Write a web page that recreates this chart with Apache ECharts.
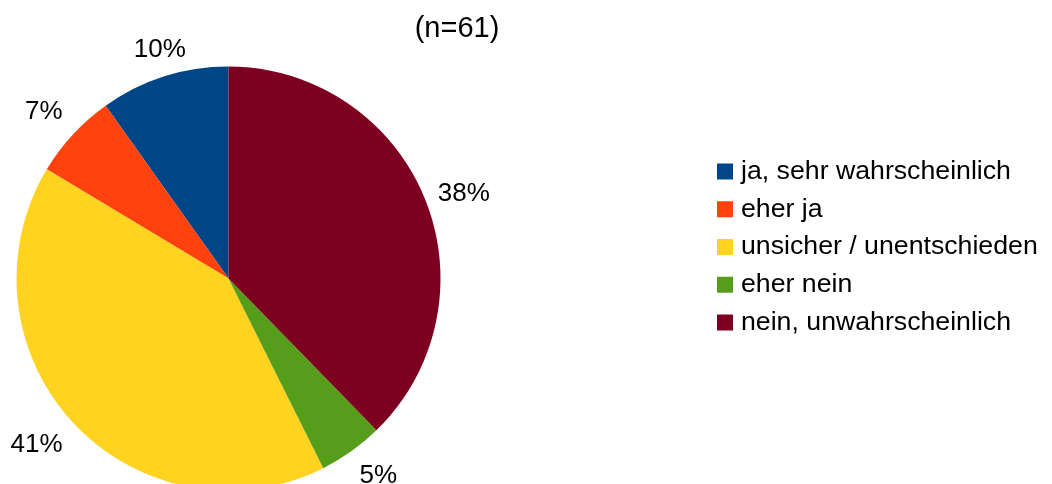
<!DOCTYPE html>
<html>
<head>
<meta charset="utf-8">
<script src="https://cdn.jsdelivr.net/npm/echarts@6/dist/echarts.min.js"></script>
<style>
  html, body { margin: 0; padding: 0; background: #fff; }
  #chart { width: 1052px; height: 484px; }
</style>
</head>
<body>
<div id="chart"></div>
<script>
// Antworten (Anzahl Befragte, n = 61)
const categories = [
  'ja, sehr wahrscheinlich',
  'eher ja',
  'unsicher / unentschieden',
  'eher nein',
  'nein, unwahrscheinlich'
];
const counts = [6, 4, 25, 3, 23];
const colors = ['#004586', '#ff420e', '#ffd320', '#579d1c', '#7e0021'];
const subtitle = '(n=61)';

const font = '"Liberation Sans", Arial, sans-serif';
const labelSize = 26;
const total = counts.reduce((a, b) => a + b, 0);
const pctText = v => Math.round(v / total * 100) + '%';

// measure label text so each label can be anchored by its nearest corner/edge
const ctx = document.createElement('canvas').getContext('2d');
ctx.font = labelSize + 'px ' + font;

// slices run counter-clockwise from 12 o'clock; anchor side follows the mid angle
let before = 0;
const labelData = categories.map((name, i) => {
  const mid = (90 + (before + counts[i] / 2) / total * 360) * Math.PI / 180;
  before += counts[i];
  const c = Math.cos(mid), s = Math.sin(mid);
  const lim = Math.cos(67.5 * Math.PI / 180);
  const w = ctx.measureText(pctText(counts[i])).width;
  const pad = [0, 0, 0, 0];
  if (c > lim) pad[3] = w;        // text to the right of the anchor
  else if (c < -lim) pad[1] = w;  // text to the left
  // vertical placement: an empty line below (text above) or above (text below)
  const vpos = s > lim ? 'above' : (s < -lim ? 'below' : 'middle');
  return { name, value: counts[i], vpos, label: { padding: pad } };
});

const pieData = categories.map((name, i) => ({ name, value: counts[i] }));

const chart = echarts.init(document.getElementById('chart'), null, { renderer: 'canvas' });
chart.setOption({
  animation: false,
  color: colors,
  title: {
    text: subtitle,
    left: 452,
    textAlign: 'center',
    top: 7.5,
    textStyle: { fontFamily: font, fontSize: 29, fontWeight: 'normal', color: '#000', lineHeight: 32 }
  },
  legend: {
    orient: 'vertical',
    left: 712,
    top: 153,
    itemWidth: 16,
    itemHeight: 16,
    itemGap: 10.75,
    icon: 'rect',
    selectedMode: false,
    data: categories,
    textStyle: { fontFamily: font, fontSize: 26.7, color: '#000', lineHeight: 27, padding: [0, 0, 0, 3] }
  },
  series: [
    {
      // the pie itself, drawn counter-clockwise from 12 o'clock
      type: 'pie',
      center: [228.5, 278.5],
      radius: 212,
      startAngle: 90,
      clockwise: false,
      silent: true,
      label: { show: false },
      labelLine: { show: false },
      emphasis: { disabled: true },
      data: pieData
    },
    {
      // invisible thin ring just outside the pie; its labels carry the percentages
      type: 'pie',
      center: [228.5, 278.5],
      radius: [222, 224],
      startAngle: 90,
      clockwise: false,
      silent: true,
      percentPrecision: 2,
      itemStyle: { color: 'rgba(0,0,0,0)' },
      label: {
        show: true,
        position: 'inside',
        formatter: p => {
          const t = Math.round(p.percent) + '%';
          const vpos = labelData[p.dataIndex].vpos;
          if (vpos === 'above') return t + '\n ';
          if (vpos === 'below') return ' \n' + t;
          return t;
        },
        fontFamily: font,
        fontSize: labelSize,
        lineHeight: labelSize,
        color: '#000'
      },
      labelLine: { show: false },
      emphasis: { disabled: true },
      data: labelData
    }
  ]
});
</script>
</body>
</html>
